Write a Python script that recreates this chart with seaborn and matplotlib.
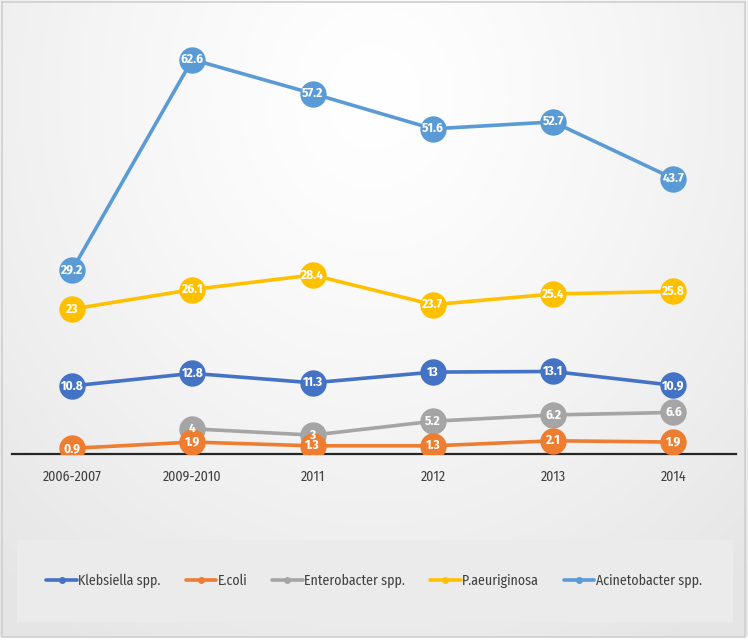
import numpy as np
import pandas as pd
import matplotlib
matplotlib.use("Agg")
import matplotlib.pyplot as plt
from matplotlib.lines import Line2D
from matplotlib.patches import Rectangle
import seaborn as sns

# ---- data ----
categories = ["2006-2007", "2009-2010", "2011", "2012", "2013", "2014"]
klebsiella = [10.8, 12.8, 11.3, 13, 13.1, 10.9]
ecoli = [0.9, 1.9, 1.3, 1.3, 2.1, 1.9]
enterobacter = [np.nan, 4, 3, 5.2, 6.2, 6.6]
paeruginosa = [23, 26.1, 28.4, 23.7, 25.4, 25.8]
acinetobacter = [29.2, 62.6, 57.2, 51.6, 52.7, 43.7]

series_names = ["Klebsiella spp.", "E.coli", "Enterobacter spp.", "P.aeuriginosa", "Acinetobacter spp."]
series_values = [klebsiella, ecoli, enterobacter, paeruginosa, acinetobacter]
colors = ["#4472C4", "#ED7D31", "#A5A5A5", "#FFC000", "#5B9BD5"]
zorders = [4, 3.5, 3, 4, 4]

sns.set_theme(style="white")
plt.rcParams["font.family"] = ["Fira Sans Condensed", "DejaVu Sans"]

fig = plt.figure(figsize=(7.48, 6.44), dpi=100)

# background gradient
bg = fig.add_axes([0, 0, 1, 1], zorder=-10)
yy, xx = np.mgrid[0:1:300j, 0:1:300j]
d = np.sqrt(((xx - 0.5) / 0.75) ** 2 + ((yy - 0.15) / 1.0) ** 2)
g = 1.0 - 0.10 * np.clip(d, 0, 1) ** 1.3
img = np.dstack([g, g, g])
bg.imshow(img, extent=[0, 1, 0, 1], aspect="auto", origin="upper")
bg.set_xlim(0, 1)
bg.set_ylim(0, 1)
bg.axis("off")
bg.add_patch(Rectangle((0, 0), 1, 7 / 644, color="white", zorder=2))
bg.add_patch(Rectangle((2 / 748, 7 / 644), 743 / 748, 635 / 644, fill=False,
                       edgecolor="#cfcfcf", lw=1.2, zorder=3))
bg.add_patch(Rectangle((17 / 748, (644 - 622) / 644), 716 / 748, 82 / 644,
                       facecolor="#ebebeb", edgecolor="none", zorder=2))

ax = fig.add_axes([0.016, 0.295, 0.968, 0.685])
ax.set_facecolor("none")

for name, vals, col, z in zip(series_names, series_values, colors, zorders):
    df = pd.DataFrame({"x": np.arange(len(categories)), "y": vals}).dropna()
    sns.lineplot(data=df, x="x", y="y", ax=ax, color=col, marker="o",
                 markersize=19, markeredgewidth=0, linewidth=2.6,
                 legend=False, zorder=z)
    for xi, yi in zip(df["x"], df["y"]):
        ax.text(xi, yi, f"{yi:g}", ha="center", va="center", color="white",
                fontsize=9.5, fontweight="bold", zorder=10)

ax.set_xlim(-0.5, 5.52)
ax.set_ylim(0, 70)
ax.set_xticks(range(len(categories)))
ax.set_xticklabels(categories, fontsize=10, color="#404040")
ax.tick_params(axis="x", length=0, pad=11)
ax.set_yticks([])
ax.set_xlabel("")
ax.set_ylabel("")
for s in ["top", "left", "right"]:
    ax.spines[s].set_visible(False)
ax.spines["bottom"].set_color("#262626")
ax.spines["bottom"].set_linewidth(1.6)

handles = [Line2D([0], [0], color=c, lw=2.6, marker="o", markersize=5, markeredgewidth=0)
           for c in colors]
fig.legend(handles, series_names, loc="center", bbox_to_anchor=(0.5, (644 - 581) / 644),
           ncol=5, frameon=False, fontsize=10, handlelength=2.2, handletextpad=0.1,
           columnspacing=1.8, labelcolor="#404040")

fig.savefig("out.png", dpi=100)
